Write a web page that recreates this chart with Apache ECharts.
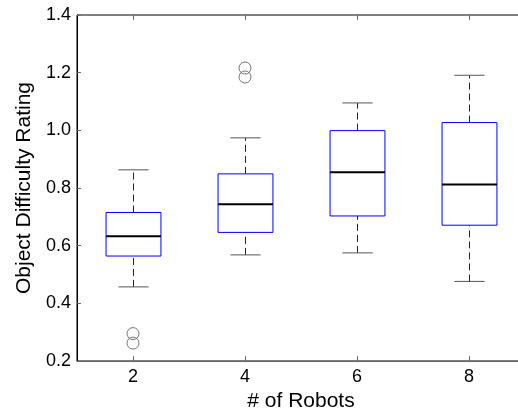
<!DOCTYPE html>
<html>
<head>
<meta charset="utf-8">
<script src="https://cdn.jsdelivr.net/npm/echarts@6/dist/echarts.min.js"></script>
<style>
html,body{margin:0;padding:0;background:#fff;overflow:hidden;}
#chart{width:540px;height:412px;}
</style>
</head>
<body>
<div id="chart"></div>
<script>
const categories = [2, 4, 6, 8];
const lowerWhisker = [0.457, 0.568, 0.575, 0.476];
const q1 = [0.564, 0.646, 0.703, 0.671];
const median = [0.633, 0.744, 0.855, 0.812];
const q3 = [0.715, 0.849, 0.999, 1.027];
const upperWhisker = [0.863, 0.974, 1.095, 1.191];
const outlierX = [2, 2, 4, 4];
const outlierY = [0.295, 0.262, 1.216, 1.185];
const xTicks = [2, 4, 6, 8];
const xRange = [1, 9];
const yRange = [0.2, 1.4];

const boxData = categories.map((c, i) => [c, lowerWhisker[i], q1[i], median[i], q3[i], upperWhisker[i]]);
const outlierData = outlierX.map((x, i) => [x, outlierY[i]]);
const topTickData = xTicks.map(x => [x, yRange[1]]);

const FONT = 'Liberation Sans';
const chart = echarts.init(document.getElementById('chart'));

function renderBox(params, api) {
  const x = api.value(0);
  const pLow = api.coord([x, api.value(1)]);
  const pQ1 = api.coord([x, api.value(2)]);
  const pMed = api.coord([x, api.value(3)]);
  const pQ3 = api.coord([x, api.value(4)]);
  const pHigh = api.coord([x, api.value(5)]);
  const unit = api.size([1, 0])[0];
  const bw = unit * 0.49;
  const cw = unit * 0.27;
  const cx = Math.round(pMed[0]) + 0.5;
  const dash = {stroke: '#222', lineWidth: 1, lineDash: [7, 4]};
  const cap = {stroke: '#555', lineWidth: 1};
  return {
    type: 'group',
    children: [
      {type: 'line', shape: {x1: cx, y1: pQ3[1], x2: cx, y2: pHigh[1]}, style: dash},
      {type: 'line', shape: {x1: cx, y1: pLow[1], x2: cx, y2: pQ1[1]}, style: dash},
      {type: 'line', shape: {x1: cx - cw, y1: pHigh[1], x2: cx + cw, y2: pHigh[1]}, style: cap},
      {type: 'line', shape: {x1: cx - cw, y1: pLow[1], x2: cx + cw, y2: pLow[1]}, style: cap},
      {type: 'rect', shape: {x: cx - bw, y: pQ3[1], width: 2 * bw, height: pQ1[1] - pQ3[1]},
        style: {fill: '#fff', stroke: '#0000ff', lineWidth: 1}},
      {type: 'line', shape: {x1: cx - bw, y1: pMed[1], x2: cx + bw, y2: pMed[1]},
        style: {stroke: '#000', lineWidth: 2}}
    ]
  };
}

function renderTopTick(params, api) {
  const p = api.coord([api.value(0), api.value(1)]);
  const x = Math.round(p[0]) + 0.5;
  return {type: 'line', shape: {x1: x, y1: p[1], x2: x, y2: p[1] + 5},
    style: {stroke: '#666', lineWidth: 1}};
}

const option = {
  backgroundColor: '#fff',
  animation: false,
  grid: {left: 77, top: 15, width: 448, height: 346, containLabel: false, outerBoundsMode: 'none',
    show: true, borderColor: '#000', borderWidth: 1, backgroundColor: 'transparent'},
  xAxis: {
    type: 'value', min: xRange[0], max: xRange[1], interval: 1,
    name: '# of Robots', nameLocation: 'middle', nameGap: 29,
    nameTextStyle: {fontFamily: FONT, fontSize: 21, color: '#000'},
    axisLine: {show: true, onZero: false, lineStyle: {color: '#666', width: 1}},
    axisTick: {show: true, inside: true, length: 5, lineStyle: {color: '#666'},
      customValues: xTicks},
    axisLabel: {fontFamily: FONT, fontSize: 18, color: '#000', margin: 7,
      customValues: xTicks},
    splitLine: {show: false}
  },
  yAxis: {
    type: 'value', min: yRange[0], max: yRange[1], interval: 0.2,
    name: 'Object Difficulty Rating', nameLocation: 'middle', nameGap: 40,
    nameTextStyle: {fontFamily: FONT, fontSize: 21, color: '#000'},
    axisLine: {show: true, onZero: false, lineStyle: {color: '#000', width: 1}},
    axisTick: {show: true, inside: true, length: 4, lineStyle: {color: '#666'}},
    axisLabel: {fontFamily: FONT, fontSize: 18, color: '#000', margin: 6,
      formatter: v => v.toFixed(1)},
    splitLine: {show: false}
  },
  series: [
    {
      type: 'custom', renderItem: renderBox,
      encode: {x: 0, y: [1, 2, 3, 4, 5]},
      data: boxData, z: 2
    },
    {
      type: 'custom', renderItem: renderTopTick,
      encode: {x: 0, y: 1}, clip: false,
      data: topTickData, z: 2
    },
    {
      type: 'scatter', symbol: 'circle', symbolSize: 12,
      itemStyle: {color: 'rgba(0,0,0,0)', borderColor: '#555', borderWidth: 1},
      data: outlierData, z: 3
    }
  ]
};
chart.setOption(option);
</script>
</body>
</html>
